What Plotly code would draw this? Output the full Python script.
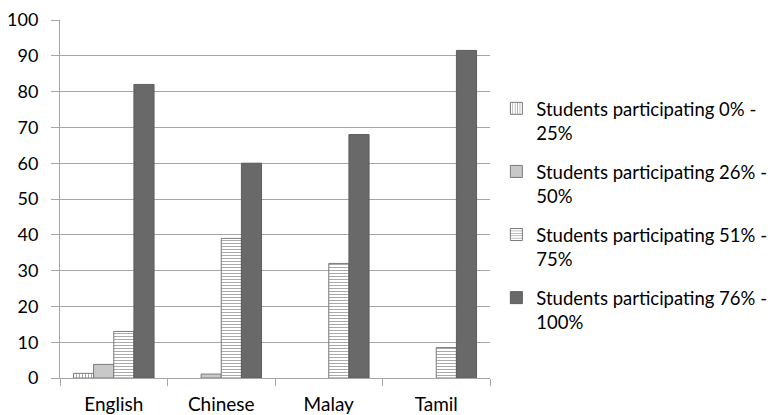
import plotly.graph_objects as go

# Participation by language group (None = no students in that band)
categories = ["English", "Chinese", "Malay", "Tamil"]
series_names = [
    "Students participating 0% -<br>25%",
    "Students participating 26% -<br>50%",
    "Students participating 51% -<br>75%",
    "Students participating 76% -<br>100%",
]
pct_0_25 = [1.3, None, None, None]
pct_26_50 = [3.8, 1.1, None, None]
pct_51_75 = [13, 39, 32, 8.5]
pct_76_100 = [82, 60, 68, 91.5]

y_ticks = list(range(0, 101, 10))

edge = dict(color="#7a7a7a", width=1)
styles = [
    dict(color="white", line=edge,
         pattern=dict(shape="|", fgcolor="#555555", bgcolor="white", size=3, solidity=0.35)),
    dict(color="#c8c8c8", line=edge),
    dict(color="white", line=edge,
         pattern=dict(shape="-", fgcolor="#555555", bgcolor="white", size=3, solidity=0.35)),
    dict(color="#696969", line=dict(color="#5e5e5e", width=1)),
]

fig = go.Figure()
for i, (name, vals) in enumerate(zip(series_names, [pct_0_25, pct_26_50, pct_51_75, pct_76_100])):
    fig.add_trace(go.Bar(x=categories, y=vals, name=name, marker=styles[i],
                         legendgroup=f"g{i}"))

fig.update_layout(
    width=778, height=415,
    margin=dict(l=60, r=288, t=20, b=37, autoexpand=False),
    paper_bgcolor="white", plot_bgcolor="white",
    barmode="group", bargap=0.25, bargroupgap=0,
    font=dict(family="Lato, Open Sans, sans-serif", size=18, color="#000000"),
    legend=dict(x=0.638, xref="container", xanchor="left", y=0.805, yanchor="top",
                tracegroupgap=12, font=dict(size=18.5), itemwidth=30,
                valign="top"),
)
fig.update_xaxes(
    showline=True, linecolor="#a6a6a6", linewidth=1,
    ticks="outside", tickson="boundaries", ticklen=7, tickcolor="#a6a6a6",
    ticklabelstandoff=9, tickfont=dict(size=19),
    showgrid=False,
)
fig.update_yaxes(
    range=[0, 100], tickvals=y_ticks,
    showline=True, linecolor="#a6a6a6", linewidth=1,
    showgrid=True, gridcolor="#a6a6a6", gridwidth=1,
    ticks="outside", ticklen=8, tickcolor="#a6a6a6",
    ticklabelstandoff=9,
    zeroline=False,
)

fig.write_html("out.html")
